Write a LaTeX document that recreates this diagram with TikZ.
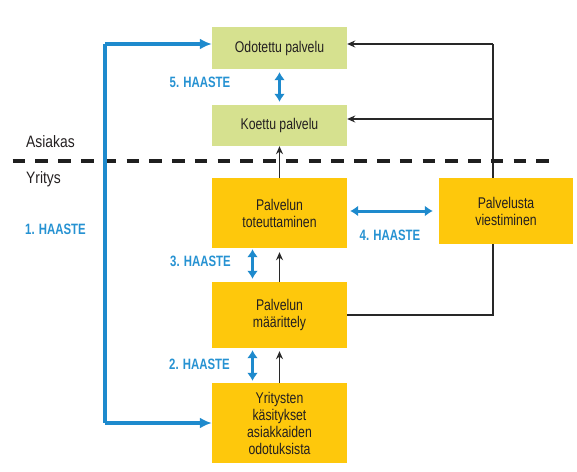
\documentclass[tikz,border=0pt]{standalone}
\usepackage{fontspec}
\setmainfont[FakeStretch=0.79]{Liberation Sans}
\newfontfamily\haastefont[FakeStretch=0.76]{Liberation Sans}
\newfontfamily\sidefont[FakeStretch=0.84]{Liberation Sans}
\usetikzlibrary{arrows.meta,backgrounds}
\definecolor{boxgreen}{RGB}{214,225,143}
\definecolor{boxyellow}{RGB}{254,200,12}
\definecolor{hblue}{RGB}{30,138,205}
\definecolor{tblue}{RGB}{38,146,210}
\definecolor{ink}{RGB}{35,31,32}
\definecolor{lineblk}{RGB}{40,40,40}
\tikzset{
  box/.style={rectangle, inner sep=0pt, align=center, text=ink,
    font=\fontsize{15.5}{17}\selectfont, minimum width=135pt},
  gbox/.style={box, fill=boxgreen},
  ybox/.style={box, fill=boxyellow},
  haaste/.style={inner sep=0pt, text=tblue, font=\haastefont\fontsize{15}{17}\selectfont\bfseries},
  side/.style={inner sep=0pt, anchor=west, text=ink, font=\sidefont\fontsize{16.5}{18}\selectfont},
  blueline/.style={draw=hblue, line width=3.2pt},
  bdbl/.style={draw=hblue, line width=3pt, {Latex[length=8pt,width=11pt]}-{Latex[length=8pt,width=11pt]}},
  blk/.style={draw=lineblk, line width=1.2pt},
  blkarrow/.style={blk, -{Stealth[length=8pt,width=7pt]}},
}
\begin{document}
\begin{tikzpicture}[x=1pt,y=-1pt]
\useasboundingbox (0,0) rectangle (577,471);
% boxes
\node[gbox, minimum height=42pt] (odo) at (279.5,48) {Odotettu palvelu};
\node[gbox, minimum height=41pt] (koe) at (279.5,125.5) {Koettu palvelu};
\node[ybox, minimum height=70pt] (tot) at (279.5,213) {Palvelun\\toteuttaminen};
\node[ybox, minimum height=66pt, minimum width=134pt] (vie) at (506,211) {Palvelusta\\viestiminen};
\node[ybox, minimum height=66pt] (maa) at (279.5,315) {Palvelun\\määrittely};
\node[ybox, minimum height=80pt] (yri) at (279.5,423) {Yritysten\\käsitykset\\asiakkaiden\\odotuksista};
% side labels
\node[side] (asi) at (26,142) {Asiakas};
\node[side] (yrt) at (26,179) {Yritys};
% dashed divider
\coordinate (dl) at (12.7,161);
\coordinate (dr) at (550,161);
\draw[draw=black!88, line width=4pt, dash pattern=on 12.5pt off 10.27pt] (dl) -- (dr);
% challenge labels
\node[haaste] (h1) at (55.5,229) {1. HAASTE};
\node[haaste] (h5) at (200,82) {5. HAASTE};
\node[haaste] (h3) at (200.5,261) {3. HAASTE};
\node[haaste] (h2) at (199.5,364) {2. HAASTE};
\node[haaste] (h4) at (390,235) {4. HAASTE};
% blue elbow (1. haaste)
\coordinate (b1) at (105,44);
\coordinate (b2) at (105,423);
\draw[blueline] (b1) -- (b2);
\draw[blueline, -{Latex[length=12pt,width=11pt]}] (b1) -- (b1 -| odo.west);
\draw[blueline, -{Latex[length=12pt,width=11pt]}] (b2) -- (b2 -| yri.west);
% blue double arrows
\draw[bdbl, shorten <=3pt, shorten >=3pt] (odo.south) -- (koe.north);
\draw[bdbl, shorten <=1pt, shorten >=3pt] ([xshift=-27pt]tot.south) -- ([xshift=-27pt]maa.north);
\draw[bdbl, shorten <=2pt, shorten >=2pt] ([xshift=-27pt]maa.south) -- ([xshift=-27pt]yri.north);
\draw[bdbl, shorten <=3pt, shorten >=6pt] ([yshift=2pt]tot.east) -- (vie.west);
% black arrows
\draw[blkarrow] (tot.north) -- (koe.south);
\draw[blkarrow, shorten >=4pt] (maa.north) -- (tot.south);
\draw[blkarrow, shorten >=3pt] (yri.north) -- (maa.south);
% right feedback line (behind the communication box)
\coordinate (rb) at (493,315);
\coordinate (rt) at (493,44);
\coordinate (rk) at (493,119);
\begin{scope}[on background layer]
\draw[blk] (maa.east) -- (rb) -- (rt);
\end{scope}
\draw[blkarrow] (rt) -- (rt -| odo.east);
\draw[blkarrow] (rk) -- (rk -| koe.east);
\end{tikzpicture}
\end{document}
